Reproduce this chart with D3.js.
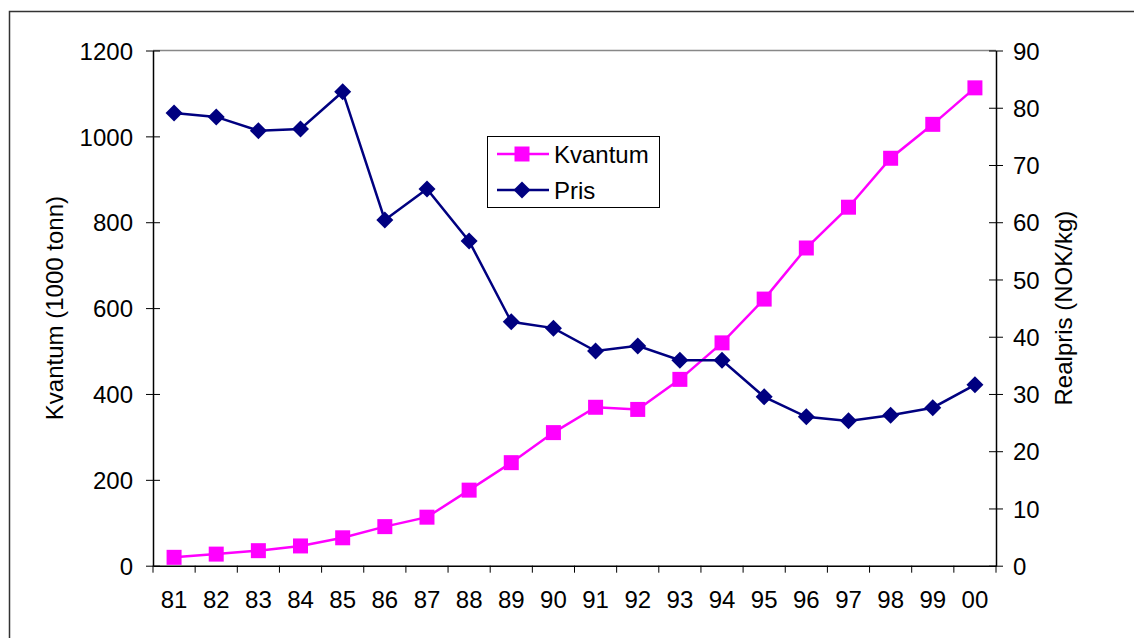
<!DOCTYPE html>
<html><head><meta charset="utf-8">
<script src="https://cdn.jsdelivr.net/npm/d3@7"></script>
<style>body{margin:0;background:#fff}svg{display:block}text{font-family:"Liberation Sans",Arial,sans-serif;fill:#000}</style>
</head><body><svg id="c" width="1134" height="638"></svg>
<script>
const years = ["81","82","83","84","85","86","87","88","89","90","91","92","93","94","95","96","97","98","99","00"];
const kvantum = [19.5,27,35,46,65,91,113,176,240,310,369,364,434,519,621,740,835,949,1028,1113];
const pris = [79.1,78.4,76.0,76.3,82.8,60.4,65.8,56.7,42.6,41.5,37.5,38.4,35.9,35.9,29.5,26.0,25.3,26.3,27.6,31.6];
const leftTicks = [0,200,400,600,800,1000,1200];
const rightTicks = [0,10,20,30,40,50,60,70,80,90];
const seriesNames = ["Kvantum","Pris"];
const colors = {Kvantum:"#ff00ff", Pris:"#000080"};

const svg = d3.select("#c");
const L=153, R=996, T=50.5, B=565.7;
const fs = 24;
const ff = "Liberation Sans, Arial, sans-serif";

// outer frame (top and left)
svg.append("path").attr("d","M9.5,638 V11.5 H1134").attr("fill","none").attr("stroke","#333").attr("stroke-width",1.5);

const x = d3.scaleBand().domain(years).range([L,R]).padding(0);
const yL = d3.scaleLinear().domain([0,1200]).range([B,T]);
const yR = d3.scaleLinear().domain([0,90]).range([B,T]);
const cx = d => x(d)+x.bandwidth()/2;

// plot area top border
svg.append("line").attr("x1",L).attr("x2",R).attr("y1",T).attr("y2",T).attr("stroke","#888").attr("stroke-width",1.5);

// left axis
const gL = svg.append("g").attr("transform",`translate(${L},0)`)
  .call(d3.axisLeft(yL).tickValues(leftTicks).tickFormat(d3.format("d")).tickSize(7).tickPadding(13).tickSizeOuter(0));
gL.selectAll(".tick line").attr("x2",7).attr("x1",-7).attr("stroke","#000");
gL.select(".domain").attr("stroke","#000").attr("stroke-width",1.5);
gL.selectAll("text").attr("font-size",fs).attr("font-family",ff).attr("dy","0.36em");

// right axis
const gR = svg.append("g").attr("transform",`translate(${R},0)`)
  .call(d3.axisRight(yR).tickValues(rightTicks).tickFormat(d3.format("d")).tickSize(7).tickPadding(10).tickSizeOuter(0));
gR.selectAll(".tick line").attr("x1",-7).attr("x2",7).attr("stroke","#000");
gR.select(".domain").attr("stroke","#000").attr("stroke-width",1.5);
gR.selectAll("text").attr("font-size",fs).attr("font-family",ff).attr("dy","0.36em");

// bottom axis
const gB = svg.append("g").attr("transform",`translate(0,${B})`)
  .call(d3.axisBottom(x).tickSize(0).tickPadding(25));
gB.select(".domain").attr("stroke","#000").attr("stroke-width",1.5);
gB.selectAll("text").attr("font-size",fs).attr("font-family",ff);
// band-boundary ticks
const bounds = years.map(d=>x(d)).concat([R]);
gB.selectAll(".btick").data(bounds).enter().append("line")
  .attr("x1",d=>d).attr("x2",d=>d).attr("y1",0).attr("y2",7).attr("stroke","#000").attr("stroke-width",1);

// axis titles
svg.append("text").attr("transform",`translate(63,${(T+B)/2}) rotate(-90)`).attr("text-anchor","middle")
  .attr("font-size",24).attr("font-family",ff).text("Kvantum (1000 tonn)");
svg.append("text").attr("transform",`translate(1072,${(T+B)/2}) rotate(-90)`).attr("text-anchor","middle")
  .attr("font-size",24).attr("font-family",ff).text("Realpris (NOK/kg)");

// lines
const lineK = d3.line().x((d,i)=>cx(years[i])).y(d=>yL(d));
const lineP = d3.line().x((d,i)=>cx(years[i])).y(d=>yR(d));
svg.append("path").datum(kvantum).attr("d",lineK).attr("fill","none").attr("stroke",colors.Kvantum).attr("stroke-width",2.5);
svg.append("path").datum(pris).attr("d",lineP).attr("fill","none").attr("stroke",colors.Pris).attr("stroke-width",2.5);

const sq = d3.symbol().type(d3.symbolSquare).size(225);
function diamond(s){
  return `M0,${-s}L${s},0L0,${s}L${-s},0Z`;
}
svg.append("g").selectAll("path").data(kvantum).enter().append("path")
  .attr("d",sq).attr("transform",(d,i)=>`translate(${cx(years[i])},${yL(d)})`).attr("fill",colors.Kvantum);
svg.append("g").selectAll("path").data(pris).enter().append("path")
  .attr("d",diamond(8.5)).attr("transform",(d,i)=>`translate(${cx(years[i])},${yR(d)})`).attr("fill",colors.Pris);

// legend
const lg = svg.append("g");
lg.append("rect").attr("x",487.5).attr("y",136.5).attr("width",172).attr("height",71).attr("fill","#fff").attr("stroke","#000").attr("stroke-width",1);
const rows = [{n:seriesNames[0],y:154},{n:seriesNames[1],y:190}];
rows.forEach(r=>{
  lg.append("line").attr("x1",497).attr("x2",549).attr("y1",r.y).attr("y2",r.y).attr("stroke",colors[r.n]).attr("stroke-width",2.5);
  if(r.n==="Kvantum") lg.append("path").attr("d",sq).attr("transform",`translate(522,${r.y})`).attr("fill",colors[r.n]);
  else lg.append("path").attr("d",diamond(8.5)).attr("transform",`translate(522,${r.y})`).attr("fill",colors[r.n]);
  lg.append("text").attr("x",554).attr("y",r.y).attr("dy","0.36em").attr("font-size",fs).attr("font-family",ff).text(r.n);
});
</script></body></html>
